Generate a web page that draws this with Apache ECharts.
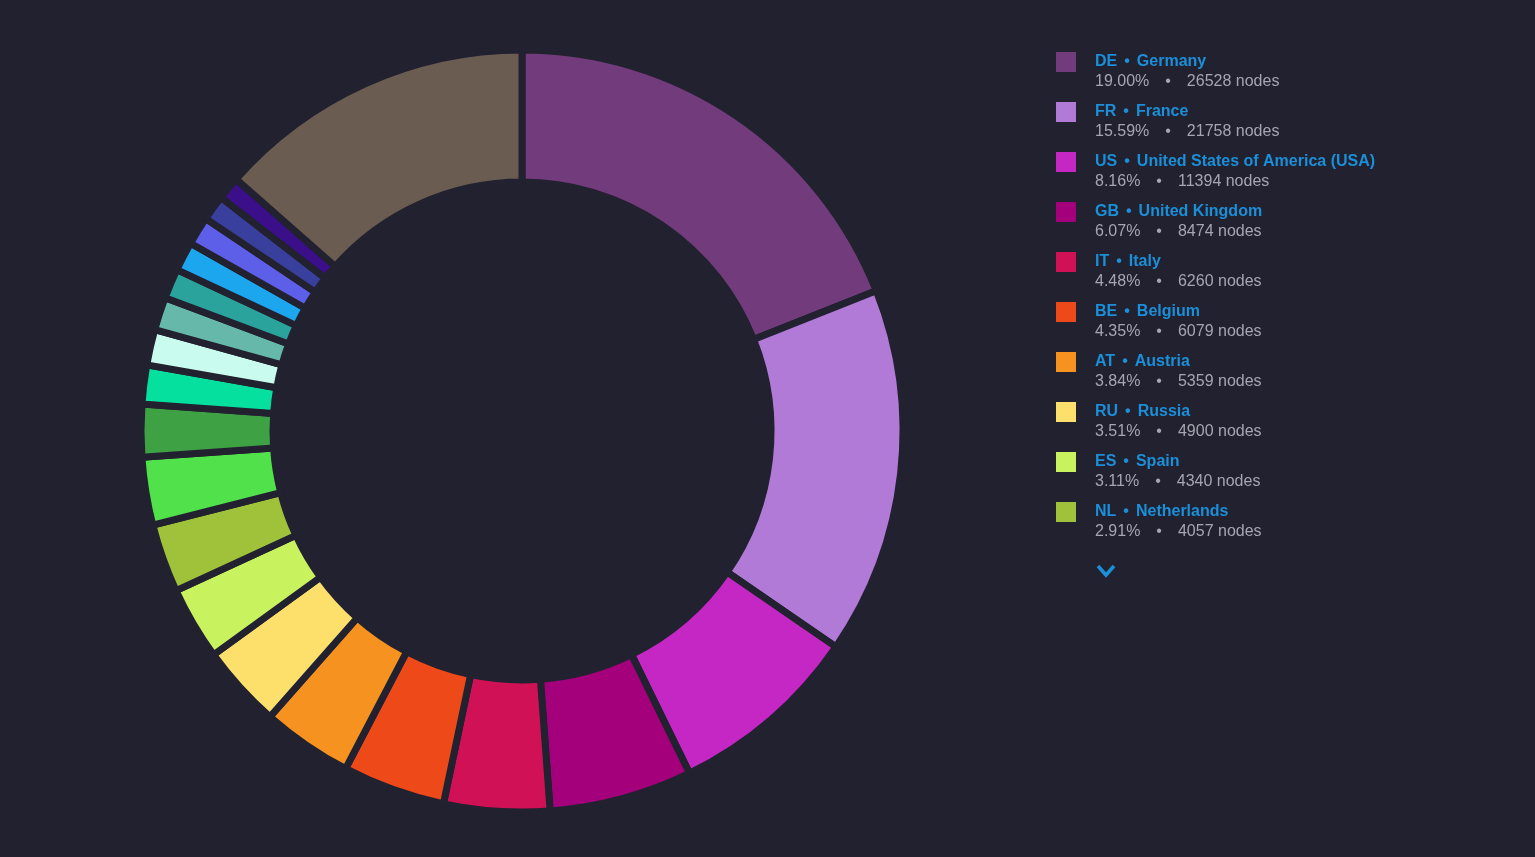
<!DOCTYPE html>
<html>
<head>
<meta charset="utf-8">
<title>Nodes by country</title>
<script src="https://cdn.jsdelivr.net/npm/echarts@6/dist/echarts.min.js"></script>
<style>
  html, body {
    margin: 0;
    padding: 0;
    background: #222130;
  }
  #pie_nodes {
    width: 1535px;
    height: 857px;
  }
</style>
</head>
<body>
<div id="pie_nodes"></div>
<script>
  // country codes, names, node counts (clockwise from 12 o'clock)
  var codes = ['DE', 'FR', 'US', 'GB', 'IT', 'BE', 'AT', 'RU', 'ES', 'NL',
    'CH', 'CA', 'PL', 'SE', 'FI', 'CZ', 'JP', 'UA', 'AU', 'SG', 'Other']
  var countries = ['Germany', 'France', 'United States of America (USA)', 'United Kingdom', 'Italy',
    'Belgium', 'Austria', 'Russia', 'Spain', 'Netherlands',
    'Switzerland', 'Canada', 'Poland', 'Sweden', 'Finland', 'Czechia', 'Japan', 'Ukraine',
    'Australia', 'Singapore', 'Other']
  var nodes = [26528, 21758, 11394, 8474, 6260, 6079, 5359, 4900, 4340, 4057,
    4020, 3100, 2300, 2110, 1950, 1780, 1740, 1690, 1520, 1380, 18856]
  var colors = ['#723b7b', '#b07ad6', '#c427c4', '#a5007c', '#d11155', '#ee4a19', '#f6921f',
    '#fde06c', '#c8f25e', '#9fc23a', '#51e24b', '#3ea244', '#06e09f', '#c9fcee', '#66b9aa',
    '#2aa39c', '#1ca6ee', '#5d5fe8', '#393f9c', '#3b0e8a', '#6b5c51']
  var legendCount = 10

  var total = nodes.reduce(function (a, b) { return a + b }, 0)

  var pieData = codes.map(function (c, i) {
    return {name: c, value: nodes[i], itemStyle: {color: colors[i]}}
  })

  var chart = echarts.init(document.getElementById('pie_nodes'))
  chart.setOption({
    backgroundColor: '#222130',
    animation: false,
    legend: {
      orient: 'vertical',
      left: 1056,
      top: 34,
      padding: 0,
      itemGap: -6,
      itemWidth: 20,
      itemHeight: 20,
      icon: 'rect',
      itemStyle: {borderWidth: 0},
      selectedMode: false,
      data: codes.slice(0, legendCount),
      formatter: function (name) {
        var i = codes.indexOf(name)
        var pct = (nodes[i] / total * 100).toFixed(2) + '%'
        // empty first line keeps the swatch beside the name line
        return '{e| }\n{c|' + codes[i] + '}{b|•}{n|' + countries[i] + '}\n' +
          '{q|' + pct + '}{d|•}{p|' + nodes[i] + ' nodes}'
      },
      textStyle: {
        fontFamily: 'Liberation Sans, Arial, sans-serif',
        rich: {
          e: {fontSize: 16, lineHeight: 20},
          c: {fontSize: 16, lineHeight: 20, fontWeight: 'bold', color: '#1b8fd8', padding: [0, 0, 0, 14]},
          n: {fontSize: 16, lineHeight: 20, fontWeight: 'bold', color: '#1b8fd8'},
          b: {fontSize: 16, lineHeight: 20, fontWeight: 'bold', color: '#1b8fd8', padding: [0, 7]},
          q: {fontSize: 16, lineHeight: 20, color: '#a6a6b2', padding: [0, 0, 0, 14]},
          p: {fontSize: 16, lineHeight: 20, color: '#a6a6b2'},
          d: {fontSize: 16, lineHeight: 20, color: '#a6a6b2', padding: [0, 16]}
        }
      }
    },
    graphic: [
      {
        type: 'polyline',
        shape: {points: [[1098, 566], [1106, 575], [1114, 566]]},
        style: {stroke: '#1b8fd8', lineWidth: 3.5, fill: null}
      }
    ],
    series: [
      {
        type: 'pie',
        center: [522, 431],
        radius: [249, 381],
        startAngle: 90,
        clockwise: true,
        avoidLabelOverlap: false,
        label: {show: false},
        labelLine: {show: false},
        emphasis: {disabled: true},
        itemStyle: {
          borderColor: '#222130',
          borderWidth: 7
        },
        data: pieData
      }
    ]
  })
</script>
</body>
</html>
